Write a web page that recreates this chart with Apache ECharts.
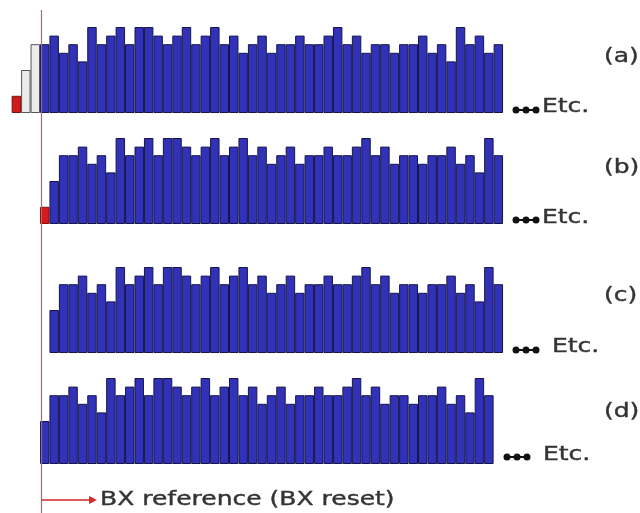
<!DOCTYPE html>
<html>
<head>
	<meta charset="utf-8">
	<script type="text/javascript" src="https://cdn.jsdelivr.net/npm/echarts@6/dist/echarts.min.js"></script>
	<style>
		html, body { margin: 0; padding: 0; background: #fff; }
	</style>
</head>
<body>
	<div id="main" style="width: 640px; height: 513px; position: absolute;"></div>

	<script type="text/javascript">
		// bar slots, the red reference line sits at slot 0
		var slots = [];
		for (var s = -3; s <= 48; s++) slots.push(String(s));

		// leading blocks: red reset block, then two grey blocks
		var lead = [2, 5, 8];
		// repeating BX sequence
		var seq = [8, 9, 7, 8, 6, 10, 8, 9, 10, 8, 10, 10, 9, 8, 9, 10, 8, 9, 10, 8,
		           9, 7, 8, 9, 7, 8, 8, 9, 8, 8, 9, 10, 8, 9, 7, 8, 8, 7, 8, 8,
		           9, 7, 8, 6, 10, 8, 9, 7, 8];

		var rowA = lead.concat(seq);                 // starts at slot -3
		var rowB = lead.concat(seq.slice(0, 46));    // starts at slot 0
		var rowC = lead.slice(1).concat(seq.slice(0, 46)); // starts at slot 1
		var rowD = lead.slice(1).concat(seq.slice(0, 46)); // starts at slot 0

		var rowLabels = ['(a)', '(b)', '(c)', '(d)'];

		var BLUE = '#3232b8', BLUE_EDGE = '#15154a';
		var GREY = '#ececec', GREY_EDGE = '#555555';
		var RED = '#d21a1a', RED_EDGE = '#7a1010';

		function build(values, startSlot, nRed, nGrey) {
			var out = [];
			for (var i = 0; i < slots.length; i++) out.push(null);
			for (var j = 0; j < values.length; j++) {
				var idx = startSlot + 3 + j;
				if (idx >= slots.length) break;
				var fill = BLUE, edge = BLUE_EDGE;
				if (j < nRed) { fill = RED; edge = RED_EDGE; }
				else if (j < nRed + nGrey) { fill = GREY; edge = GREY_EDGE; }
				out[idx] = { value: values[j], itemStyle: { color: fill, borderColor: edge } };
			}
			return out;
		}

		var rows = [
			build(rowA, -3, 1, 2),
			build(rowB, 0, 1, 0),
			build(rowC, 1, 0, 0),
			build(rowD, 0, 0, 0)
		];
		var baselines = [113, 224, 353, 464];
		var gridH = 86;

		var grids = [], xAxes = [], yAxes = [], series = [];
		for (var r = 0; r < 4; r++) {
			grids.push({ left: 11.65, width: 491.4, top: baselines[r] - gridH, height: gridH });
			xAxes.push({ type: 'category', gridIndex: r, data: slots, show: false, boundaryGap: true });
			yAxes.push({ type: 'value', gridIndex: r, min: 0, max: 10, show: false });
			series.push({
				type: 'bar', xAxisIndex: r, yAxisIndex: r,
				data: rows[r], barCategoryGap: 0, barWidth: '100%',
				itemStyle: { borderWidth: 1 },
				silent: true, animation: false
			});
		}

		// the source picture is stretched sideways, so the text is too
		var FONT = '20px "DejaVu Sans"';
		var INK = '#333333';
		var SX = 1.25;
		function label(x, y, text) {
			return { type: 'text', x: x, y: y, scaleX: SX,
				style: { text: text, fill: INK, font: FONT, verticalAlign: 'middle',
					stroke: INK, lineWidth: 0.4 } };
		}

		var graphics = [
			// red reference line
			{ type: 'line', shape: { x1: 41.5, y1: 10, x2: 41.5, y2: 513 }, style: { stroke: '#d05a5a', lineWidth: 1.2 }, z: 100 },
			{ type: 'line', shape: { x1: 41.5, y1: 500, x2: 90, y2: 500 }, style: { stroke: '#d02a2a', lineWidth: 1.5 }, z: 100 },
			{ type: 'polygon', shape: { points: [[89, 496], [97, 500], [89, 504]] }, style: { fill: '#d02a2a' }, z: 100 },
			label(100, 500, 'BX reference (BX reset)')
		];

		var labelY = [57, 168, 296, 412];
		var etcY = [107, 218, 347, 455];
		var dotY = [110, 220, 350, 457];
		var dotX = [512, 512, 512, 503];
		var etcX = [542, 542, 552, 543];
		for (var k = 0; k < 4; k++) {
			graphics.push(label(604, labelY[k], rowLabels[k]));
			graphics.push(label(etcX[k], etcY[k], 'Etc.'));
			graphics.push({ type: 'line', shape: { x1: dotX[k] + 3, y1: dotY[k], x2: dotX[k] + 25, y2: dotY[k] }, style: { stroke: '#111', lineWidth: 2 } });
			for (var d = 0; d < 3; d++) {
				graphics.push({ type: 'circle', shape: { cx: dotX[k] + 4 + d * 10, cy: dotY[k], r: 3.5 }, style: { fill: '#111' } });
			}
		}

		var chart = echarts.init(document.getElementById('main'));
		chart.setOption({
			animation: false,
			backgroundColor: '#fff',
			grid: grids,
			xAxis: xAxes,
			yAxis: yAxes,
			series: series,
			graphic: graphics
		});
	</script>
</body>
</html>
